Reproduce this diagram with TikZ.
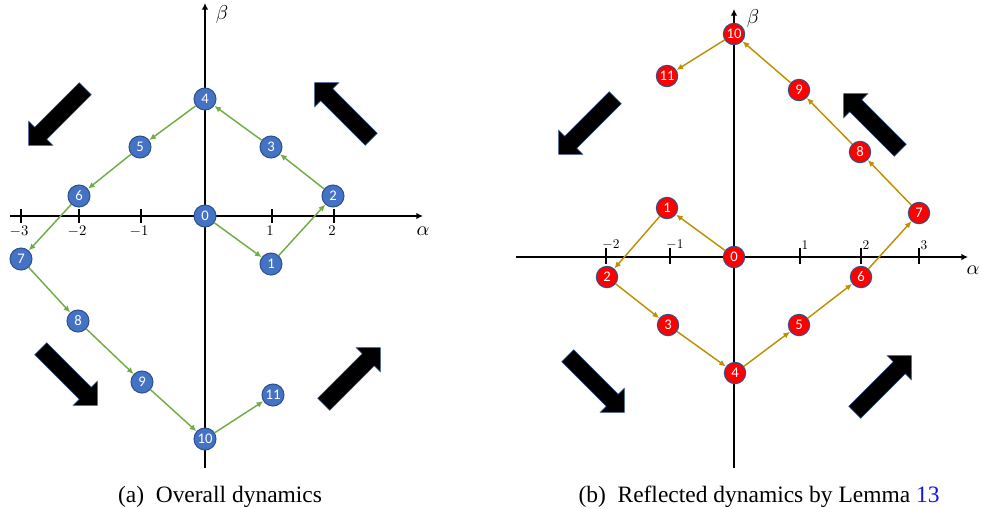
\documentclass[tikz,border=0pt]{standalone}
\usepackage{fontspec}
\setmainfont{Liberation Serif}
\newfontfamily\calibri{Carlito}
\usetikzlibrary{arrows.meta}
\definecolor{cblue}{HTML}{4472C4}
\definecolor{cnavy}{HTML}{2F528F}
\definecolor{cred}{HTML}{FF0000}
\definecolor{cgreen}{HTML}{70AD47}
\definecolor{cgold}{HTML}{BF9000}
\definecolor{clink}{HTML}{1010F0}
\newcommand{\bigmath}[1]{\scalebox{1.5}{$#1$}}
\tikzset{
  axisline/.style={-{Latex[length=5pt,width=5pt]}, line width=2.2pt},
  tickmark/.style={line width=1.3pt},
  bnode/.style={circle, draw=cnavy, line width=0.8pt, fill=cblue, text=white, inner sep=0pt, minimum size=16.5pt, font=\calibri\fontsize{11}{11}\selectfont},
  rnode/.style={bnode, fill=cred, minimum size=16pt},
  gstep/.style={-{Latex[length=5pt,width=4.5pt]}, draw=cgreen, line width=1.1pt},
  ostep/.style={gstep, draw=cgold},
  pics/bigarrow/.style={code={\fill[black, draw=cnavy, line width=0.4pt] (-40,-8.5) -- (23,-8.5) -- (23,-17) -- (40,0) -- (23,17) -- (23,8.5) -- (-40,8.5) -- cycle;}},
}

\begin{document}
\begin{tikzpicture}[x=0.75pt, y=-0.75pt]
  \useasboundingbox (0,0) rectangle (981,508);
  % (a) overall dynamics
  \coordinate (axw) at (10,216); \coordinate (axe) at (423,216);
  \coordinate (ays) at (205,468); \coordinate (ayn) at (205,3);
  \draw[axisline] (axw) -- (axe); \draw[axisline] (ays) -- (ayn);
  \foreach \t/\l [count=\k] in {21/-3, 79/-2, 141/-1, 272/1, 334/2} {
    \draw[tickmark] (\t,209) -- (\t,223);
    \node[inner sep=0pt] (lta\k) at (\t-2,231) {\scalebox{1.1}{$\l$}};
  }
  \node (alpa) at (423,231) {\bigmath{\alpha}};
  \node (beta) at (222,14) {\bigmath{\beta}};
  \node[bnode] (a0) at (205,216) {0}; \node[bnode] (a1) at (271,264) {1}; \node[bnode] (a2) at (333,196) {2};
  \node[bnode] (a3) at (271,147) {3}; \node[bnode] (a4) at (205,99) {4}; \node[bnode] (a5) at (140,147) {5};
  \node[bnode] (a6) at (79,196) {6}; \node[bnode] (a7) at (21,259) {7}; \node[bnode] (a8) at (78,321) {8};
  \node[bnode] (a9) at (142,382) {9}; \node[bnode] (a10) at (205,439) {10}; \node[bnode] (a11) at (273,395) {11};
  \foreach \i [count=\j] in {0,...,10} \draw[gstep] (a\i) -- (a\j);
  \pic[rotate=225] at (57,117) {bigarrow}; \pic[rotate=135] at (343,111) {bigarrow};
  \pic[rotate=-45] at (69,377) {bigarrow}; \pic[rotate=45] at (352,376) {bigarrow};
  \node[anchor=base, font=\fontsize{17.6}{20}\selectfont] (capa) at (220,502) {(a)\enspace Overall dynamics};
  % (b) reflected dynamics
  \coordinate (bxw) at (516,257); \coordinate (bxe) at (968,257);
  \coordinate (bys) at (734,468); \coordinate (byn) at (734,9);
  \draw[axisline] (bxw) -- (bxe); \draw[axisline] (bys) -- (byn);
  \foreach \t/\l [count=\k] in {606/-2, 670/-1, 800/1, 861/2, 919/3} {
    \draw[tickmark] (\t,248) -- (\t,264);
    \node[inner sep=0pt] (ltb\k) at (\t+5,245) {$\l$};
  }
  \node (alpb) at (973,270) {\bigmath{\alpha}};
  \node (betb) at (753,18) {\bigmath{\beta}};
  \node[rnode] (b0) at (734,257) {0}; \node[rnode] (b1) at (667,208) {1}; \node[rnode] (b2) at (607,277) {2};
  \node[rnode] (b3) at (668,325) {3}; \node[rnode] (b4) at (735,373) {4}; \node[rnode] (b5) at (799,325) {5};
  \node[rnode] (b6) at (861,277) {6}; \node[rnode] (b7) at (919,213) {7}; \node[rnode] (b8) at (860,152) {8};
  \node[rnode] (b9) at (799,90) {9}; \node[rnode] (b10) at (734,34) {10}; \node[rnode] (b11) at (667,76) {11};
  \foreach \i [count=\j] in {0,...,10} \draw[ostep] (b\i) -- (b\j);
  \pic[rotate=225] at (587,126) {bigarrow}; \pic[rotate=135] at (872,122) {bigarrow};
  \pic[rotate=-45] at (596,384) {bigarrow}; \pic[rotate=45] at (883,384) {bigarrow};
  \node[anchor=base, font=\fontsize{17.6}{20}\selectfont] (capb) at (759,502) {(b)\enspace Reflected dynamics by Lemma \textcolor{clink}{13}};
\end{tikzpicture}
\end{document}
